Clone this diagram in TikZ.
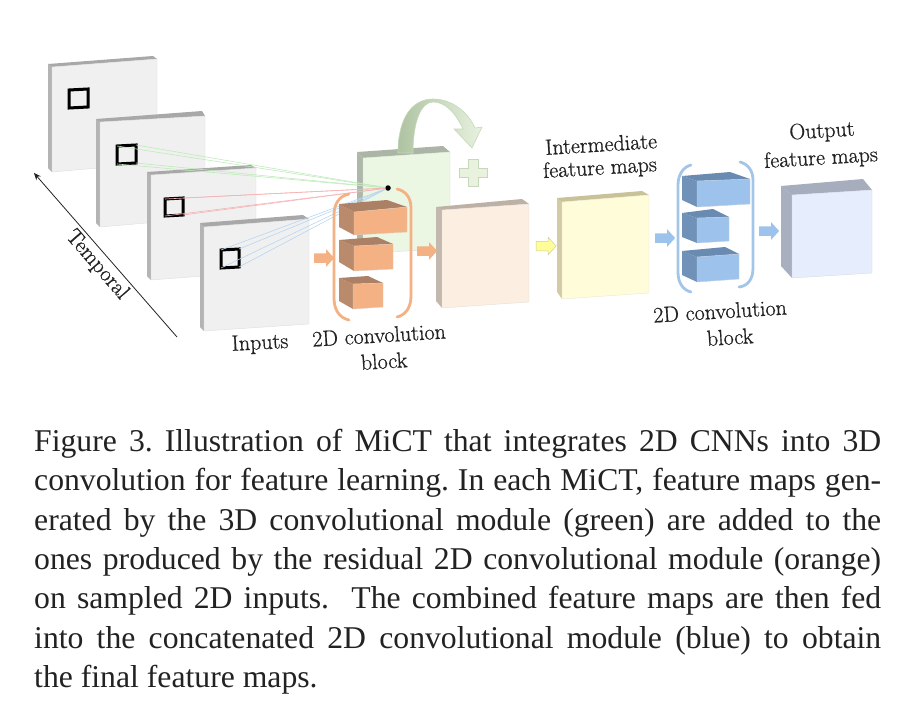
\documentclass[tikz,border=0pt]{standalone}
\usepackage{fontspec}
\setmainfont{Liberation Serif}
\newfontfamily\labelfont[FakeBold=0.8]{Latin Modern Roman}
\usetikzlibrary{arrows.meta,shapes.arrows}

\definecolor{grayfront}{HTML}{F0F0F0}
\definecolor{grayside}{HTML}{B4B4B4}
\definecolor{graytop}{HTML}{A8A8A8}
\definecolor{greenfront}{HTML}{EBF7E3}
\definecolor{greenside}{HTML}{AEB8A8}
\definecolor{greentop}{HTML}{ABB5A5}
\definecolor{peachfront}{HTML}{FCEEE1}
\definecolor{peachside}{HTML}{C2B8AE}
\definecolor{peachtop}{HTML}{BDB1A6}
\definecolor{yellowfront}{HTML}{FFFCD9}
\definecolor{yellowside}{HTML}{D2CBA5}
\definecolor{yellowtop}{HTML}{C9C198}
\definecolor{paleblfront}{HTML}{E6EDFC}
\definecolor{paleblside}{HTML}{A8AFBE}
\definecolor{palebltop}{HTML}{A6ADBC}
\definecolor{orangefront}{HTML}{F4B183}
\definecolor{orangeside}{HTML}{B98A6B}
\definecolor{orangetop}{HTML}{AB8064}
\definecolor{bluefront}{HTML}{9DC3EC}
\definecolor{blueside}{HTML}{7092B8}
\definecolor{bluetop}{HTML}{6A8BB1}
\definecolor{linegreen}{HTML}{BFEBBB}
\definecolor{linered}{HTML}{F4B4B4}
\definecolor{lineblue}{HTML}{B8D6F2}
\definecolor{arcdark}{HTML}{AEC3A2}
\definecolor{arclight}{HTML}{E8F2DF}
\definecolor{arcedge}{HTML}{C6D8BA}
\definecolor{brackblue}{HTML}{A3C5E8}
\definecolor{textdark}{HTML}{222222}

\tikzset{
    labeltext/.style={font=\labelfont\fontsize{22}{25}\selectfont, text=textdark, inner sep=0pt},
    blockarrow/.style={single arrow, minimum height=20pt, inner xsep=0pt, inner ysep=4.5pt,
        single arrow head extend=4pt, single arrow tip angle=95, line width=0.5pt},
    bracket/.style={line width=2.8pt, line cap=round},
    marker/.style={draw=black, line width=3pt, join=miter}
}

% colour prefix, front TL, TR, BR, BL, back TL, TR, BL
\newcommand{\mapslab}[8]{
    \fill[#1side] #6 -- #2 -- #5 -- #8 -- cycle;
    \fill[#1top] #6 -- #7 -- #3 -- #2 -- cycle;
    \filldraw[fill=#1front, draw=#1side!45, line width=0.4pt] #2 -- #3 -- #4 -- #5 -- cycle;
}

\begin{document}
\begin{tikzpicture}[x=1pt,y=-1pt]
    \useasboundingbox (0,0) rectangle (908,704);

    \mapslab{gray}{(52,67)}{(157,59)}{(157,163)}{(52,172)}{(48,64)}{(153,56)}{(48,168)}
    \mapslab{gray}{(100,122)}{(205,116)}{(205,218)}{(100,227)}{(96,119)}{(202,111)}{(96,223)}
    \mapslab{gray}{(151,175)}{(256,168)}{(256,272)}{(151,280)}{(147,172)}{(251,165)}{(147,276)}
    \mapslab{gray}{(204,227)}{(309,219)}{(309,324)}{(204,331)}{(200,223)}{(303,215)}{(200,327)}

    \foreach \nm/\ax/\ay/\bx/\by/\cx/\cy/\dx/\dy in {
        sqa/69/90/88/89/88/107/69/108,
        sqb/117/146/136/145/136/163/117/164,
        sqc/165/199/183/198/183/215/165/216,
        sqd/221/250/239/249/239/267/221/268}
    {
        \coordinate (\nm a) at (\ax,\ay);
        \coordinate (\nm b) at (\bx,\by);
        \coordinate (\nm c) at (\cx,\cy);
        \coordinate (\nm d) at (\dx,\dy);
        \draw[marker] (\nm a) -- (\nm b) -- (\nm c) -- (\nm d) -- cycle;
    }

    \coordinate (timestart) at (177,337);
    \coordinate (timeend) at (34,173);
    \draw[-{Stealth[length=7pt,width=6pt]}, line width=0.8pt, textdark] (timestart) -- (timeend);
    \node[labeltext, rotate=-49] (temporal) at (97,265) {Temporal};
    \node[labeltext, rotate=3] (inputs) at (260,344) {Inputs};

    \mapslab{green}{(363,158)}{(450,152)}{(450,249)}{(363,253)}{(357,152)}{(443,146)}{(357,248)}

    \path[left color=arcdark, middle color=arclight, right color=arclight, draw=arcedge, line width=0.6pt]
        (398,153) .. controls (398,118) and (412,99) .. (433,99)
        .. controls (452,99) and (468,112) .. (475,128) -- (482,127) -- (472,148) -- (454,129) -- (463,129)
        .. controls (455,112) and (445,102) .. (433,102)
        .. controls (421,102) and (413,122) .. (413,153) -- cycle;
    \filldraw[fill=arclight, draw=arcedge, line width=1pt]
        (468,159) -- (478,159) -- (478,168) -- (487,168) -- (487,177) -- (478,177) -- (478,186)
        -- (468,186) -- (468,177) -- (459,177) -- (459,168) -- (468,168) -- cycle;

    \node[circle, fill=black, inner sep=0pt, minimum size=5.5pt] (focus) at (388,188) {};
    \foreach \nm/\col in {sqb/linegreen, sqc/linered, sqd/lineblue}
        \foreach \cn in {a,b,c,d}
            \draw[\col, line width=0.6pt] (\nm\cn) -- (focus);

    \mapslab{peach}{(442,210)}{(529,204)}{(529,302)}{(442,308)}{(436,207)}{(522,199)}{(436,301)}
    \mapslab{yellow}{(562,202)}{(649,195)}{(649,293)}{(562,299)}{(557,198)}{(642,191)}{(557,292)}
    \mapslab{palebl}{(792,195)}{(872,190)}{(872,273)}{(792,278)}{(781,186)}{(863,179)}{(781,266)}

    \mapslab{orange}{(354,212)}{(407,207)}{(407,232)}{(354,235)}{(339,204)}{(387,200)}{(339,227)}
    \mapslab{orange}{(354,246)}{(393,244)}{(393,269)}{(354,271)}{(339,240)}{(377,237)}{(339,262)}
    \mapslab{orange}{(353,284)}{(383,283)}{(383,307)}{(353,309)}{(339,278)}{(368,276)}{(339,301)}
    \draw[bracket, orangefront] (349,194) .. controls (339,196) and (334,204) .. (334,215) -- (334,298)
        .. controls (334,309) and (339,318) .. (349,320);
    \draw[bracket, orangefront] (397,189) .. controls (406,191) and (411,198) .. (411,208) -- (411,296)
        .. controls (411,307) and (406,315) .. (397,317);

    \mapslab{blue}{(697,181)}{(750,179)}{(750,204)}{(697,207)}{(682,176)}{(730,172)}{(682,200)}
    \mapslab{blue}{(697,218)}{(729,217)}{(729,241)}{(697,243)}{(682,213)}{(713,209)}{(682,237)}
    \mapslab{blue}{(697,257)}{(739,254)}{(739,279)}{(697,282)}{(682,251)}{(725,247)}{(682,275)}
    \draw[bracket, brackblue] (691,165) .. controls (683,167) and (678,175) .. (678,185) -- (678,272)
        .. controls (678,283) and (683,290) .. (691,292);
    \draw[bracket, brackblue] (740,162) .. controls (748,164) and (753,171) .. (753,180) -- (753,268)
        .. controls (753,279) and (748,286) .. (739,287);

    \node[blockarrow, fill=orangefront] (arrowa) at (322,258) {};
    \node[blockarrow, fill=orangefront] (arrowb) at (425,251) {};
    \node[blockarrow, fill=yellowfront!70!yellow, draw=yellowside] (arrowc) at (544,246) {};
    \node[blockarrow, fill=bluefront] (arrowd) at (663,238) {};
    \node[blockarrow, fill=bluefront] (arrowe) at (767,231) {};

    \node[labeltext, rotate=3.5] (convtop) at (379,335) {2D convolution};
    \node[labeltext, rotate=3.5] (blocktop) at (384,361) {block};
    \node[labeltext, rotate=3.5] (interone) at (601,144) {Intermediate};
    \node[labeltext, rotate=3.5] (intertwo) at (600,169) {feature maps};
    \node[labeltext, rotate=3.5] (convlow) at (720,311) {2D convolution};
    \node[labeltext, rotate=3.5] (blocklow) at (730,337) {block};
    \node[labeltext, rotate=3.5] (outone) at (822,132) {Output};
    \node[labeltext, rotate=3.5] (outtwo) at (821,159) {feature maps};

    \node[anchor=north west, text width=847pt, align=justify, inner sep=0pt, text=textdark,
        font=\fontsize{31.7}{39.3}\selectfont\frenchspacing] (caption) at (34,429) {
        Figure 3. Illustration of MiCT that integrates 2D CNNs into 3D\linebreak
        convolution for feature learning. In each MiCT, feature maps gen-\linebreak
        erated by the 3D convolutional module (green) are added to the\linebreak
        ones produced by the residual 2D convolutional module (orange)\linebreak
        on sampled 2D inputs.\ \ The combined feature maps are then fed\linebreak
        into the concatenated 2D convolutional module (blue) to obtain\linebreak
        the final feature maps.};
\end{tikzpicture}
\end{document}
